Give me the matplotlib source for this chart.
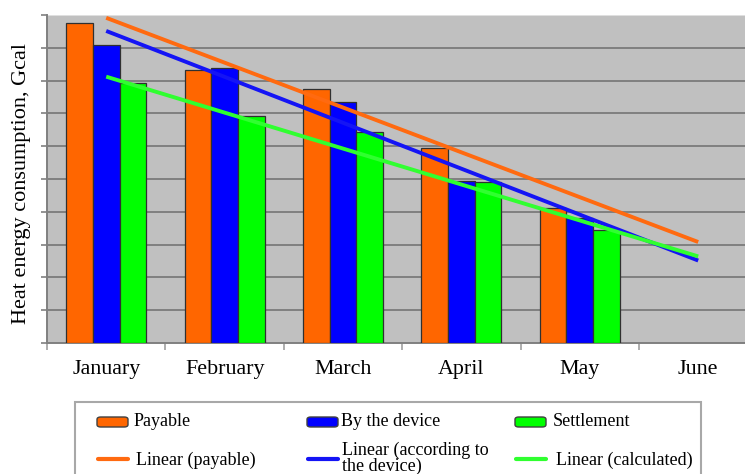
import numpy as np
import matplotlib
matplotlib.use("Agg")
import matplotlib.pyplot as plt
from matplotlib.patches import Rectangle, FancyBboxPatch
from matplotlib.lines import Line2D

months = ["January", "February", "March", "April", "May", "June"]
payable = [9.77, 8.32, 7.74, 5.95, 4.12]
device = [9.09, 8.38, 7.35, 4.94, 3.81]
settlement = [7.92, 6.93, 6.43, 4.91, 3.45]

bar_names = ["Payable", "By the device", "Settlement"]
line_names = ["Linear (payable)", "Linear (according to", "Linear (calculated)"]
line_name_cont = "the device)"
bar_colors = ["#FF6600", "#0000FF", "#00FF00"]
line_colors = ["#FF6A10", "#1414F5", "#30FF30"]

W, H = 745, 474
fig = plt.figure(figsize=(W / 100, H / 100), dpi=100)
fig.patch.set_facecolor("white")

def fx(px):
    return px / W

def fy(py):
    return 1 - py / H

left, right, top, bottom = 47, 757.4, 15, 343
ax = fig.add_axes([fx(left), fy(bottom), (right - left) / W, (bottom - top) / H])
ax.set_facecolor("#C0C0C0")

x = np.arange(1, len(months) + 1)
n = len(payable)
bw = 0.225
series = [payable, device, settlement]
for k, (vals, col) in enumerate(zip(series, bar_colors)):
    ax.bar(x[:n] + (k - 1) * bw, vals, width=bw, color=col, edgecolor="#303030",
           linewidth=0.9, zorder=3)

xs = np.arange(1, n + 1)
for vals, col in zip(series, line_colors):
    coef = np.polyfit(xs, vals, 1)
    xl = np.array([1, len(months)])
    ax.plot(xl, np.polyval(coef, xl), color=col, linewidth=2.8, zorder=4,
            solid_capstyle="butt")

ax.set_xlim(0.5, len(months) + 0.5)
ax.set_ylim(0, 10)
ax.set_yticks(np.arange(0, 11, 1))
ax.set_yticklabels([])
ax.yaxis.grid(True, color="#808080", linewidth=1.4, zorder=1)
ax.yaxis.get_gridlines()[-1].set_color("#E0E0E0")
ax.set_axisbelow(True)
ax.tick_params(axis="y", direction="out", length=4, width=1.2, color="#808080")

ax.set_xticks(np.arange(0.5, len(months) + 1, 1))
ax.set_xticklabels([])
ax.set_xticks(x, minor=True)
ax.set_xticklabels(months, minor=True, fontfamily="Liberation Serif", fontsize=15.8)
ax.tick_params(axis="x", which="major", direction="out", length=5, width=1.2, color="#A0A0A0")
ax.tick_params(axis="x", which="minor", length=0, pad=12.5)

for s in ["top", "right"]:
    ax.spines[s].set_visible(False)
ax.spines["left"].set_color("#808080")
ax.spines["left"].set_linewidth(1.4)
ax.spines["bottom"].set_color("#808080")
ax.spines["bottom"].set_linewidth(1.4)

fig.text(fx(22), fy(184), "Heat energy consumption, Gcal", rotation=90,
         ha="center", va="center", fontfamily="Liberation Serif", fontsize=16)

# legend box
box = Rectangle((fx(75), fy(520)), fx(701 - 75), (520 - 402) / H,
                transform=fig.transFigure, facecolor="white", edgecolor="#A8A8A8",
                linewidth=1.5, zorder=1)
fig.patches.append(box)

lfont = dict(fontfamily="Liberation Serif", fontsize=13, va="center", ha="left")
col_x = [97, 307, 515]
txt_x = [134, 341, 553]
txt2_x = [136, 342, 556]
for i in range(3):
    p = FancyBboxPatch((fx(col_x[i]), fy(427)), fx(31), 10 / H,
                       boxstyle="round,pad=0,rounding_size=0.005",
                       transform=fig.transFigure, facecolor=bar_colors[i],
                       edgecolor="#404040", linewidth=1.0, zorder=3)
    fig.patches.append(p)
    fig.text(fx(txt_x[i]), fy(422), bar_names[i], **lfont)
    ln = Line2D([fx(col_x[i] + 1), fx(col_x[i] + 31)], [fy(459), fy(459)],
                transform=fig.transFigure, color=line_colors[i], linewidth=3.0,
                solid_capstyle="round")
    fig.lines.append(ln)
fig.text(fx(txt2_x[0]), fy(460), line_names[0], **lfont)
fig.text(fx(txt2_x[1]), fy(450), line_names[1], **lfont)
fig.text(fx(txt2_x[1]), fy(466), line_name_cont, **lfont)
fig.text(fx(txt2_x[2]), fy(460), line_names[2], **lfont)

fig.savefig("out.png", dpi=100)
